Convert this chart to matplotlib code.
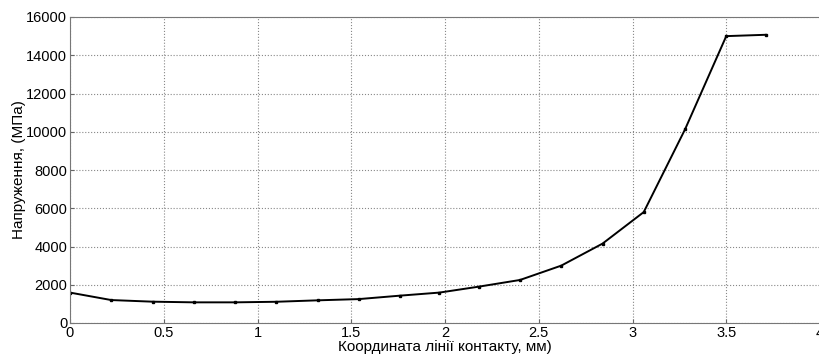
import matplotlib
matplotlib.use("Agg")
import matplotlib.pyplot as plt

# coordinate along contact line (mm) and stress (MPa)
x_mm = [0, 0.22, 0.44, 0.66, 0.88, 1.10, 1.32, 1.54, 1.76, 1.97,
        2.18, 2.40, 2.62, 2.84, 3.06, 3.28, 3.50, 3.71]
stress = [1590, 1200, 1115, 1080, 1080, 1110, 1185, 1250, 1430, 1590,
          1900, 2250, 3000, 4150, 5800, 10120, 15000, 15070]

x_ticks = [0, 0.5, 1, 1.5, 2, 2.5, 3, 3.5, 4]
y_ticks = [0, 2000, 4000, 6000, 8000, 10000, 12000, 14000, 16000]

plt.rcParams["font.family"] = ["Liberation Sans", "DejaVu Sans"]

fig = plt.figure(figsize=(8.19, 3.56), dpi=100)
ax = fig.add_axes([70 / 819, 33 / 356, 750 / 819, 306 / 356])

ax.plot(x_mm, stress, color="black", linewidth=1.4, marker="s", markersize=2)

ax.set_xlim(0, 4)
ax.set_ylim(0, 16000)
ax.set_xticks(x_ticks)
ax.set_xticklabels(["0", "0.5", "1", "1.5", "2", "2.5", "3", "3.5", "4"])
ax.set_yticks(y_ticks)
ax.grid(True, linestyle=":", color="#888888", linewidth=0.8)
ax.tick_params(labelsize=10.5, direction="in", length=3, color="#666666", pad=2)
for s in ax.spines.values():
    s.set_color("#777777")

ax.set_xlabel("Координата лінії контакту, мм)", fontsize=11, labelpad=0)
ax.set_ylabel("Напруження, (МПа)", fontsize=11, labelpad=0)

fig.savefig("out.png", dpi=100)
